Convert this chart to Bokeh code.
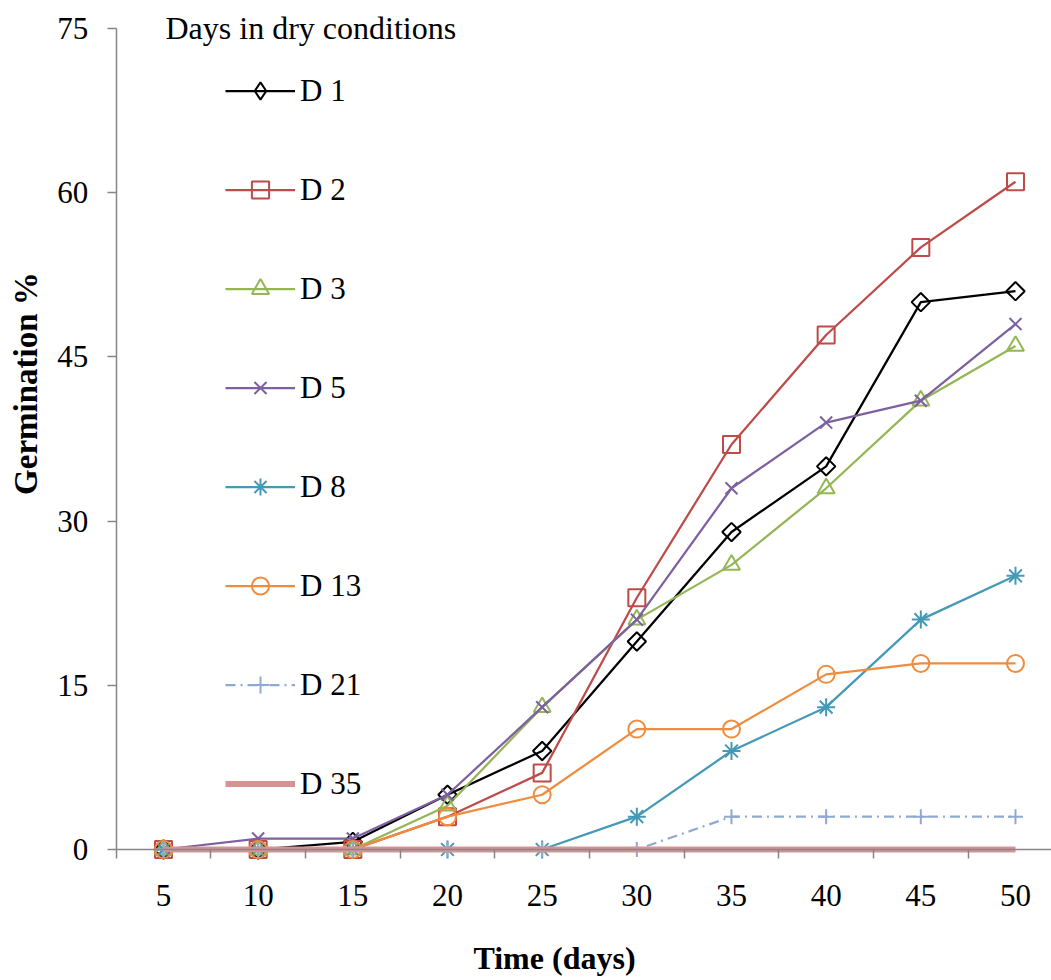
import numpy as np
from bokeh.plotting import figure
from bokeh.models import Range1d, FixedTicker, Legend, LegendItem, Label
from bokeh.embed import file_html
from bokeh.resources import INLINE

# ---- data ----
days = [5, 10, 15, 20, 25, 30, 35, 40, 45, 50]
d1 = [0, 0, 0.7, 5, 9, 19, 29, 35, 50, 51]
d2 = [0, 0, 0, 3, 7, 23, 37, 47, 55, 61]
d3 = [0, 0, 0, 4, 13, 21, 26, 33, 41, 46]
d5 = [0, 1, 1, 5, 13, 21, 33, 39, 41, 48]
d8 = [0, 0, 0, 0, 0, 3, 9, 13, 21, 25]
d13 = [0, 0, 0, 3, 5, 11, 11, 16, 17, 17]
d21 = [0, 0, 0, 0, 0, 0, 3, 3, 3, 3]
d35 = [0, 0, 0, 0, 0, 0, 0, 0, 0, 0]
series_names = ["D 1", "D 2", "D 3", "D 5", "D 8", "D 13", "D 21", "D 35"]
y_ticks = [0, 15, 30, 45, 60, 75]

FONT = "Liberation Serif"
AXIS_GRAY = "#868686"

W, H = 1051, 980
px_x = 18.933          # pixels per day
px_y = 10.947          # pixels per germination %
x0_px, y0_px = 163, 849  # where day 5 / 0 % sit
x_start = days[0] - x0_px / px_x
x_end = days[0] + (W - x0_px) / px_x
y_end = y_ticks[-1] + 28 / px_y
y_start = -(H - y0_px) / px_y

p = figure(width=W, height=H, output_backend="svg", toolbar_location=None,
           x_range=Range1d(x_start, x_end), y_range=Range1d(y_start, y_end),
           min_border=0)
p.outline_line_color = None
p.grid.grid_line_color = None
p.background_fill_color = "white"

# x axis: labels at categories, tick marks between them
xa = p.xaxis[0]
xa.fixed_location = 0
xa.bounds = (days[0] - 2.5, x_end)
xa.ticker = FixedTicker(ticks=days, minor_ticks=[d - 2.5 for d in days] + [days[-1] + 2.5])
xa.axis_line_color = AXIS_GRAY
xa.axis_line_width = 1.5
xa.major_tick_out = 0
xa.major_tick_in = 0
xa.minor_tick_out = 9
xa.minor_tick_in = 0
xa.minor_tick_line_color = AXIS_GRAY
xa.minor_tick_line_width = 1.5
xa.major_label_standoff = 26
xa.major_label_text_font = FONT
xa.major_label_text_font_size = "31px"
xa.major_label_text_color = "black"

ya = p.yaxis[0]
ya.fixed_location = days[0] - 2.5
ya.bounds = (0, y_ticks[-1])
ya.ticker = FixedTicker(ticks=y_ticks, minor_ticks=[])
ya.axis_line_color = AXIS_GRAY
ya.axis_line_width = 1.5
ya.major_tick_out = 9
ya.major_tick_in = 0
ya.major_tick_line_color = AXIS_GRAY
ya.major_tick_line_width = 1.5
ya.minor_tick_out = 0
ya.minor_tick_in = 0
ya.major_label_standoff = 19
ya.major_label_text_font = FONT
ya.major_label_text_font_size = "31px"
ya.major_label_text_color = "black"

styles = [
    (d1, "#000000", "square", 13, np.pi / 4, None),
    (d2, "#BE4B48", "square", 17, 0, None),
    (d3, "#94B655", "triangle", 17, 0, None),
    (d5, "#7D60A0", "x", 17, 0, None),
    (d8, "#4499B6", "asterisk", 18, 0, None),
    (d13, "#F08C3E", "circle", 17, 0, None),
    (d21, "#8FA9D3", "cross", 15, 0, "10 5 2 5"),
    (d35, "#D69393", None, 0, 0, None),
]

items = []
for name, (vals, color, marker, size, ang, dash) in zip(series_names, styles):
    rs = []
    if marker is None:
        lr = p.line(days, vals, line_color=color, line_width=6)
        rs.append(lr)
    else:
        lr = p.line(days, vals, line_color=color, line_width=2.25,
                    line_dash=dash if dash else "solid")
        sr = p.scatter(days, vals, marker=marker, size=size, angle=ang,
                       line_color=color, line_width=2, fill_alpha=0)
        rs.append(lr)
        if ang:
            # legend keys ignore angle: a non-drawing diamond proxy for the key
            kr = p.scatter([np.nan], [np.nan], marker="diamond", size=size,
                           line_color=color, line_width=2, fill_alpha=0)
            rs.append(kr)
        else:
            rs.append(sr)
    items.append(LegendItem(label=name, renderers=rs))

legend = Legend(items=items, location=(225, 175), padding=0, margin=0,
                spacing=56, glyph_width=70, glyph_height=43, label_height=43,
                label_standoff=5, label_text_font=FONT, label_text_font_size="31px",
                label_text_color="black", border_line_alpha=0, background_fill_alpha=0)
p.add_layout(legend)

p.add_layout(Label(x=days[0] + 2 / px_x, y=y_ticks[-1], text="Days in dry conditions",
                   text_font=FONT, text_font_size="32px", text_align="left",
                   text_baseline="middle", text_color="black"))
p.add_layout(Label(x=days[0] + (25 - x0_px) / px_x, y=(y0_px - 383) / px_y,
                   text="Germination %", text_font=FONT,
                   text_font_size="33px", text_font_style="bold", angle=np.pi / 2,
                   text_align="center", text_baseline="middle", text_color="black"))
p.add_layout(Label(x=days[0] + (554 - x0_px) / px_x, y=-(957 - y0_px) / px_y,
                   text="Time (days)", text_font=FONT,
                   text_font_size="32px", text_font_style="bold",
                   text_align="center", text_baseline="middle", text_color="black"))

open("out.html", "w").write(file_html(p, INLINE))
